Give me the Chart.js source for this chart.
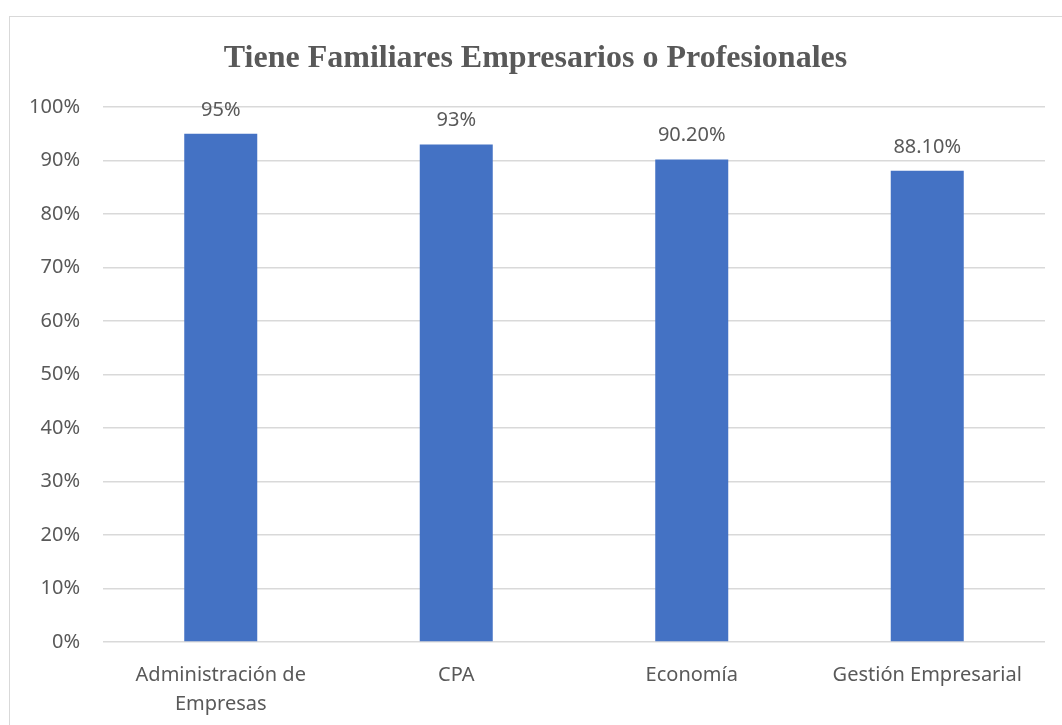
<!DOCTYPE html>
<html>
<head>
<meta charset="utf-8">
<script src="https://cdn.jsdelivr.net/npm/chart.js@4"></script>
<style>
    body { margin: 0; background: #fff; overflow: hidden; }
    #frame { position: absolute; left: 9px; top: 16px; width: 1100px; height: 800px; border: 1px solid #d9d9d9; }
    #wrap { position: absolute; left: 0; top: 0; width: 1062px; height: 725px; }
</style>
</head>
<body>
<div id="frame"></div>
<div id="wrap"><canvas id="chart"></canvas></div>
<script>
// data
const categories = [['Administración de', 'Empresas'], 'CPA', 'Economía', 'Gestión Empresarial'];
const values = [95, 93, 90.2, 88.1];
const valueLabels = ['95%', '93%', '90.20%', '88.10%'];
const yTicks = [0, 10, 20, 30, 40, 50, 60, 70, 80, 90, 100];

const textColor = '#595959';

// labels above each bar
const barLabels = {
    id: 'barLabels',
    afterDatasetsDraw(chart) {
        const ctx = chart.ctx;
        const meta = chart.getDatasetMeta(0);
        ctx.save();
        ctx.font = '20px "Noto Sans"';
        ctx.fillStyle = textColor;
        ctx.textAlign = 'center';
        ctx.textBaseline = 'alphabetic';
        meta.data.forEach(function (bar, i) {
            ctx.fillText(valueLabels[i], bar.x, bar.y - 18);
        });
        ctx.restore();
    }
};

const ctx = document.getElementById('chart').getContext('2d');
const myChart = new Chart(ctx, {
    type: 'bar',
    data: {
        labels: categories,
        datasets: [{
            data: values,
            backgroundColor: '#4472C4',
            barPercentage: 0.31,
            categoryPercentage: 1
        }]
    },
    options: {
        responsive: true,
        maintainAspectRatio: false,
        animation: false,
        layout: { padding: { left: 26, right: 17, top: 0, bottom: 0 } },
        plugins: {
            legend: { display: false },
            tooltip: { enabled: false },
            title: {
                display: true,
                text: 'Tiene Familiares Empresarios o Profesionales',
                color: textColor,
                font: { family: '"Liberation Serif"', size: 32, weight: 'bold', lineHeight: 1.2 },
                padding: { top: 39.8, bottom: 28.8 }
            }
        },
        scales: {
            x: {
                grid: { display: false },
                border: { display: false },
                ticks: {
                    color: textColor,
                    font: { family: '"Noto Sans"', size: 20, lineHeight: 1.45 },
                    padding: 11,
                    maxRotation: 0
                },
                afterFit(axis) { axis.height = 83; }
            },
            y: {
                min: 0,
                max: 100,
                afterBuildTicks(axis) { axis.ticks = yTicks.map(v => ({ value: v })); },
                grid: { color: '#d9d9d9', lineWidth: 1.5, drawTicks: false },
                border: { display: false },
                ticks: {
                    color: textColor,
                    font: { family: '"Noto Sans"', size: 20 },
                    padding: 23,
                    callback: v => v + '%'
                },
                afterFit(axis) { axis.width = 77; }
            }
        }
    },
    plugins: [barLabels]
});
</script>
</body>
</html>
